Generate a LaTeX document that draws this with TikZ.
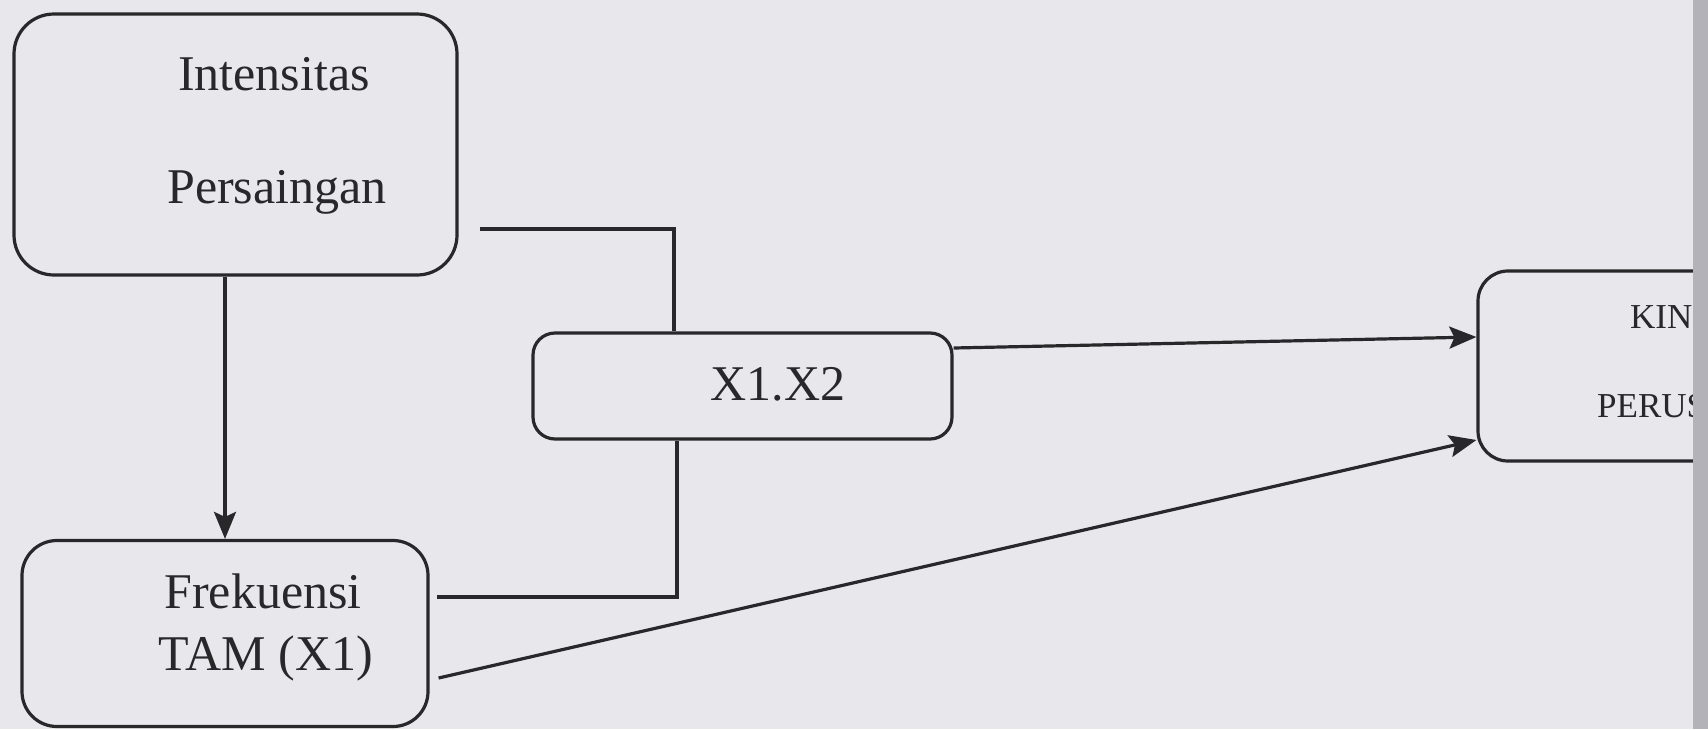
\documentclass[tikz,border=0pt]{standalone}
\usepackage{fontspec}
\setmainfont{Liberation Serif}
\usetikzlibrary{arrows.meta}
\definecolor{paper}{RGB}{231,231,236}
\definecolor{ink}{RGB}{40,40,42}
\definecolor{edgegray}{RGB}{178,178,184}
\tikzset{
  boxshape/.style={draw=ink, line width=3.2pt, inner sep=0pt, fill=none},
  bigtext/.style={text=ink, inner sep=0pt, anchor=base, font=\fontsize{50}{56}\selectfont},
  smalltext/.style={text=ink, inner sep=0pt, anchor=base west, font=\fontsize{35}{40}\selectfont},
  conn/.style={draw=ink, line width=3.2pt},
  arr/.style={conn, -{Stealth[length=27pt,width=22pt,inset=5pt]}}
}
\begin{document}
\begin{tikzpicture}[x=1pt,y=-1pt]
\useasboundingbox (0,0) rectangle (1708,729);
\fill[paper] (0,0) rectangle (1708,729);

% boxes
\node[boxshape, rounded corners=40pt, minimum width=443pt, minimum height=261pt] (b1) at (235.5,144.5) {};
\node[boxshape, rounded corners=35pt, minimum width=406pt, minimum height=186pt] (b2) at (225,633.5) {};
\node[boxshape, rounded corners=22pt, minimum width=419pt, minimum height=106pt] (x12) at (742.5,386) {};

% texts
\node[bigtext] (t1a) at (274,90) {Intensitas};
\node[bigtext] (t1b) at (277,203) {Persaingan};
\node[bigtext] (t2a) at (263,608) {Frekuensi};
\node[bigtext] (t2b) at (266,670) {TAM (X1)};
\node[bigtext] (t3) at (778,400) {X1.X2};

% right box, cut by the page edge
\begin{scope}
\clip (0,0) rectangle (1693,729);
\node[boxshape, rounded corners=30pt, minimum width=400pt, minimum height=190pt] (kin) at (1678,366) {};
\node[smalltext] (t4a) at (1630,328) {KINE};
\node[smalltext] (t4b) at (1597,417) {PERUS};
\end{scope}
\fill[edgegray] (1693,0) rectangle (1708,729);

% connectors
\coordinate (j1) at (674,229);
\coordinate (j2) at (677,597);
\draw[arr] ([xshift=-10.5pt]b1.south) -- ([xshift=-10.5pt]b1.south |- b2.north);
\draw[conn] ([xshift=21pt]b1.east |- j1) -- (j1) -- (j1 |- x12.north);
\draw[conn] (x12.south -| j2) -- (j2) -- ([xshift=7pt]b2.east |- j2);
\draw[arr] ([yshift=38pt]x12.east) -- ([yshift=29pt]kin.west);
\draw[arr] ([xshift=9pt,yshift=-44.5pt]b2.east) -- ([yshift=-74pt]kin.west);
\end{tikzpicture}
\end{document}
